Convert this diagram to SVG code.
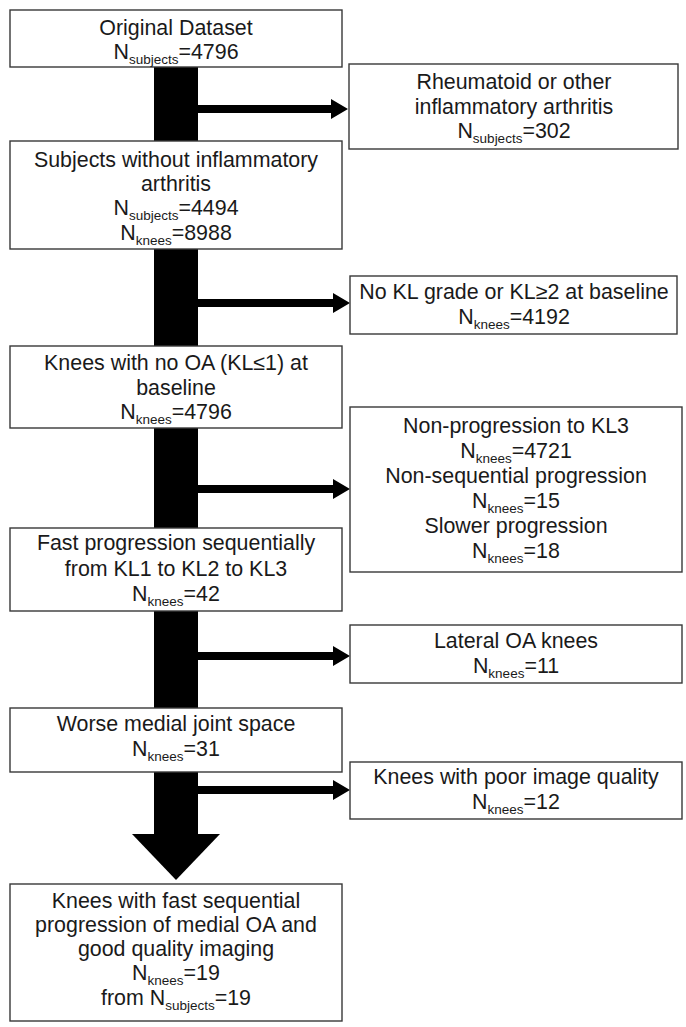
<svg xmlns="http://www.w3.org/2000/svg" width="686" height="1027" viewBox="0 0 686 1027">
<defs>
<style>
.box{fill:#fff;stroke:#383838;stroke-width:1.4}
text{font-family:"Liberation Sans",Arial,sans-serif;font-size:21.4px;fill:#1a1a1a;text-anchor:middle}
.sub{font-size:13.5px}
.flow{fill:#000}
</style>
</defs>
<rect width="686" height="1027" fill="#fff"/>
<g id="connectors">
<rect class="flow" x="154" y="67" width="44" height="768"/>
<path class="flow" d="M132,834 L220,834 L176,880 Z"/>
<path class="flow" d="M198,105 H331 V99 L348,109 L331,119 V113 H198 Z"/>
<path class="flow" d="M198,299 H333 V293 L350,303 L333,313 V307 H198 Z"/>
<path class="flow" d="M198,485 H333 V479 L350,489 L333,499 V493 H198 Z"/>
<path class="flow" d="M198,652 H333 V646 L350,656 L333,666 V660 H198 Z"/>
<path class="flow" d="M198,786 H333 V780 L350,790 L333,800 V794 H198 Z"/>
</g>
<g id="n1">
<rect class="box" x="10" y="10" width="332" height="57"/>
<text x="176" y="35">Original Dataset</text>
<text x="176" y="59">N<tspan class="sub" dy="5">subjects</tspan><tspan dy="-5">=4796</tspan></text>
</g>
<g id="n2">
<rect class="box" x="349" y="64" width="329" height="85"/>
<text x="514" y="89">Rheumatoid or other</text>
<text x="514" y="114">inflammatory arthritis</text>
<text x="514" y="138">N<tspan class="sub" dy="5">subjects</tspan><tspan dy="-5">=302</tspan></text>
</g>
<g id="n3">
<rect class="box" x="10" y="141" width="332" height="108"/>
<text x="176" y="167">Subjects without inflammatory</text>
<text x="176" y="191">arthritis</text>
<text x="176" y="215">N<tspan class="sub" dy="5">subjects</tspan><tspan dy="-5">=4494</tspan></text>
<text x="176" y="240">N<tspan class="sub" dy="5">knees</tspan><tspan dy="-5">=8988</tspan></text>
</g>
<g id="n4">
<rect class="box" x="350" y="276" width="327" height="58"/>
<text x="514" y="299">No KL grade or KL≥2 at baseline</text>
<text x="514" y="324">N<tspan class="sub" dy="5">knees</tspan><tspan dy="-5">=4192</tspan></text>
</g>
<g id="n5">
<rect class="box" x="10" y="346" width="332" height="82"/>
<text x="176" y="370">Knees with no OA (KL≤1) at</text>
<text x="176" y="395">baseline</text>
<text x="176" y="419">N<tspan class="sub" dy="5">knees</tspan><tspan dy="-5">=4796</tspan></text>
</g>
<g id="n6">
<rect class="box" x="350" y="407" width="332" height="165"/>
<text x="516" y="433">Non-progression to KL3</text>
<text x="516" y="458">N<tspan class="sub" dy="5">knees</tspan><tspan dy="-5">=4721</tspan></text>
<text x="516" y="483">Non-sequential progression</text>
<text x="516" y="508">N<tspan class="sub" dy="5">knees</tspan><tspan dy="-5">=15</tspan></text>
<text x="516" y="533">Slower progression</text>
<text x="516" y="558">N<tspan class="sub" dy="5">knees</tspan><tspan dy="-5">=18</tspan></text>
</g>
<g id="n7">
<rect class="box" x="10" y="528" width="332" height="83"/>
<text x="176" y="550">Fast progression sequentially</text>
<text x="176" y="576">from KL1 to KL2 to KL3</text>
<text x="176" y="601">N<tspan class="sub" dy="5">knees</tspan><tspan dy="-5">=42</tspan></text>
</g>
<g id="n8">
<rect class="box" x="350" y="625" width="332" height="58"/>
<text x="516" y="648">Lateral OA knees</text>
<text x="516" y="673">N<tspan class="sub" dy="5">knees</tspan><tspan dy="-5">=11</tspan></text>
</g>
<g id="n9">
<rect class="box" x="10" y="708" width="332" height="64"/>
<text x="176" y="731">Worse medial joint space</text>
<text x="176" y="756">N<tspan class="sub" dy="5">knees</tspan><tspan dy="-5">=31</tspan></text>
</g>
<g id="n10">
<rect class="box" x="350" y="762" width="332" height="57"/>
<text x="516" y="784">Knees with poor image quality</text>
<text x="516" y="809">N<tspan class="sub" dy="5">knees</tspan><tspan dy="-5">=12</tspan></text>
</g>
<g id="n11">
<rect class="box" x="10" y="884" width="332" height="137"/>
<text x="176" y="908">Knees with fast sequential</text>
<text x="176" y="932">progression of medial OA and</text>
<text x="176" y="956">good quality imaging</text>
<text x="176" y="980">N<tspan class="sub" dy="5">knees</tspan><tspan dy="-5">=19</tspan></text>
<text x="176" y="1005">from N<tspan class="sub" dy="5">subjects</tspan><tspan dy="-5">=19</tspan></text>
</g>
</svg>
